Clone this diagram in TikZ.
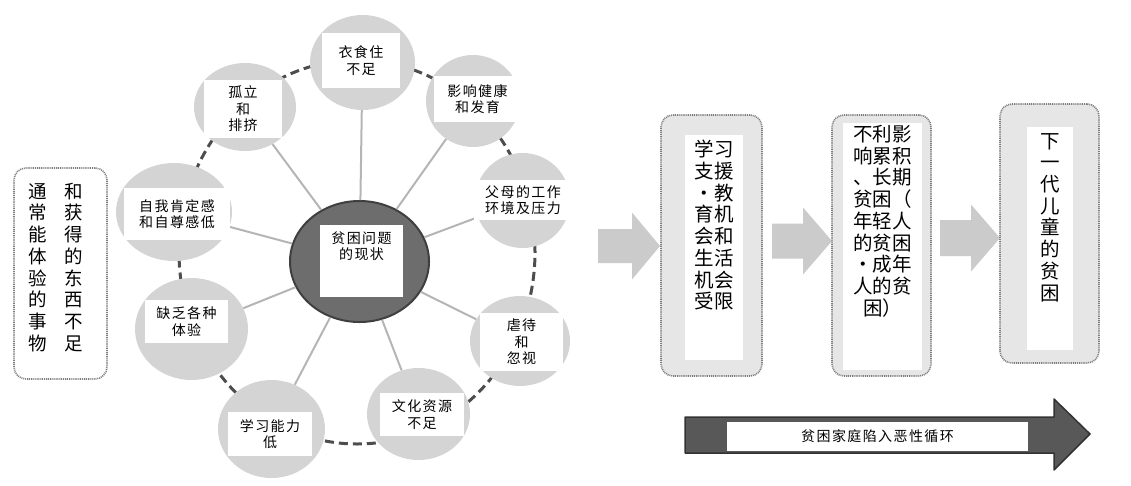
\documentclass[tikz,border=0pt]{standalone}
\usepackage{fontspec}
\setmainfont{Noto Sans CJK SC}
\usetikzlibrary{shapes.geometric}

\definecolor{bubblegray}{HTML}{D4D4D4}
\definecolor{coregray}{HTML}{6D6D6D}
\definecolor{coreedge}{HTML}{3F3F3F}
\definecolor{ringgray}{HTML}{4D4D4D}
\definecolor{spokegray}{HTML}{B5B5B5}
\definecolor{boxgray}{HTML}{E6E6E6}
\definecolor{dotgray}{HTML}{7E7E7E}
\definecolor{flowgray}{HTML}{CBCBCB}
\definecolor{cyclegray}{HTML}{585858}

\tikzset{
  bubble/.style={ellipse, fill=bubblegray, inner sep=0pt},
  tag/.style={fill=white, inner sep=0pt, align=center,
    font=\fontsize{14}{16.5}\selectfont\addfontfeature{LetterSpace=10}},
  spoke/.style={draw=spokegray, line width=2pt},
  ring/.style={draw=ringgray, line width=3pt, dash pattern=on 9pt off 5pt},
  roundbox/.style={rounded corners=12pt, draw=dotgray, line width=1.6pt,
    dash pattern=on 1pt off 0.9pt, inner sep=0pt},
  inbox/.style={fill=white, inner sep=0pt},
  colfont/.style={align=center, inner sep=0pt, font=\fontsize{19.5}{21.7}\selectfont},
}

\begin{document}
\begin{tikzpicture}[x=1pt, y=-1pt, line join=round]
\useasboundingbox (0,0) rectangle (1131,485);

% dashed ring behind the bubbles
\draw[ring] (357,252) ellipse [x radius=178pt, y radius=192pt];

\node[ellipse, fill=coregray, draw=coreedge, line width=2pt, inner sep=0pt,
  minimum width=139, minimum height=121] (core) at (359.5,261.5) {};

\foreach \n/\x/\y/\rx/\ry in {food/362.5/62.5/52.5/47.5, isol/245/107/51/44,
  health/473/101/47/46, parent/522.5/200.5/47.5/47.5, selfe/174/212/58/49,
  exper/191.5/329/56.5/51, learn/271.5/429/53.5/49, cult/418.5/414/51.5/46,
  abuse/520/341/50/45}
{
  \node[bubble, minimum width=2*\rx, minimum height=2*\ry] (\n) at (\x,\y) {};
  \draw[spoke] (core) -- (\n);
}

\foreach \n/\x/\y/\w/\h/\t in {food/361/60.5/78/55/{衣食住\\不足},
  isol/243/109/78/58/{孤立\\和\\排挤},
  health/477.5/99/87/46/{影响健康\\和发育},
  parent/523/200/98/40/{父母的工作\\环境及压力},
  selfe/177/214/106/52/{自我肯定感\\和自尊感低},
  exper/186.5/321.5/83/43/{缺乏各种\\体验},
  learn/270/434/84/44/{学习能力\\低},
  cult/422/414.5/84/43/{文化资源\\不足},
  abuse/521.5/342/83/58/{虐待\\和\\忽视}}
  \node[tag, minimum width=\w, minimum height=\h] (\n-t) at (\x,\y) {\t};

\node[tag, minimum width=83, minimum height=72,
  label={[tag, anchor=north, yshift=-6.5pt]north:贫困问题\\的现状}] (core-t) at (361.5,261) {};

% left note
\node[roundbox, fill=white, minimum width=93, minimum height=211,
  label={[align=center, inner sep=0pt, anchor=north, xshift=-4.5pt, yshift=-15.5pt,
    font=\fontsize{18.5}{21.7}\selectfont]north:通\hspace{17.5pt}和\\常\hspace{17.5pt}获\\能\hspace{17.5pt}得\\体\hspace{17.5pt}的\\验\hspace{17.5pt}东\\的\hspace{17.5pt}西\\事\hspace{17.5pt}不\\物\hspace{17.5pt}足}]
  (note) at (60.5,273.5) {};

% flow arrows
\foreach \xa/\xb/\xc/\ym/\sh/\hh in {598/632/660/246/17/33.5,
  772/803/832/241/17.5/33.5, 940/971/1000/238/18/33.5}
  \fill[flowgray] (\xa,\ym-\sh) -- (\xb,\ym-\sh) -- (\xb,\ym-\hh) -- (\xc,\ym)
    -- (\xb,\ym+\hh) -- (\xb,\ym+\sh) -- (\xa,\ym+\sh) -- cycle;

% three stages
\node[roundbox, fill=boxgray, minimum width=101, minimum height=261] (stage1) at (711.5,245.5) {};
\node[inbox, minimum width=58, minimum height=225,
  label={[colfont, anchor=north, yshift=-5.25pt]north:学习\\支援\\・教\\育机\\会和\\生活\\机会\\受限}]
  (stage1-t) at (714,247.5) {};

\node[roundbox, fill=boxgray, minimum width=99, minimum height=261] (stage2) at (881.5,245.5) {};
\node[inbox, minimum width=79, minimum height=247,
  label={[colfont, anchor=north, yshift=-2.25pt]north:不利影\\响累积\\、长期\\贫困（\\年轻人\\的贫困\\・成年\\人的贫\\困）}]
  (stage2-t) at (882.5,246.5) {};

\node[roundbox, fill=boxgray, minimum width=99, minimum height=259] (stage3) at (1049.5,233.5) {};
\node[inbox, minimum width=46, minimum height=223,
  label={[colfont, anchor=north, yshift=-6.25pt]north:下\\一\\代\\儿\\童\\的\\贫\\困}]
  (stage3-t) at (1050,238.5) {};

% vicious circle arrow
\draw[fill=cyclegray, draw=black!80, line width=1.5pt]
  (685,417) -- (1054,417) -- (1054,399) -- (1090,434) -- (1054,470) -- (1054,453) -- (685,453) -- cycle;
\node[inbox, minimum width=301, minimum height=29,
  font=\fontsize{14}{16}\selectfont\addfontfeature{LetterSpace=10}] (cycle) at (877.5,436.5) {贫困家庭陷入恶性循环};
\end{tikzpicture}
\end{document}
